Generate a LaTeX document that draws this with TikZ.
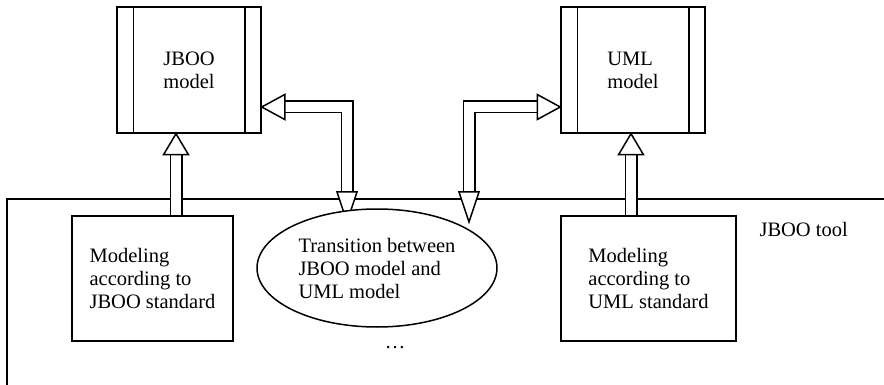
\documentclass[tikz,border=0pt]{standalone}
\usepackage{fontspec}
\setmainfont{Liberation Serif}
\usetikzlibrary{shapes.geometric,calc}

\tikzset{
  every node/.style={font=\fontsize{20.5}{23}\selectfont},
  ln/.style={line width=1.5pt},
  modelbox/.style={ln, draw, fill=white, minimum width=144pt, minimum height=126pt,
                   align=left, inner sep=0pt},
  workbox/.style={ln, draw, fill=white, minimum height=125pt, align=left, inner sep=0pt},
  transbox/.style={ln, draw, fill=white, ellipse, minimum width=240pt, minimum height=118pt,
                   align=left, inner sep=0pt},
  shaft/.style={line width=1.5pt, double=white, double distance=10pt, line join=miter},
  headtip/.style={ln, fill=white, line join=miter},
}

% hollow arrow heads, given by their tip
\newcommand\headUp[1]{\draw[headtip] (#1) -- ++(12.5,21) -- ++(-25,0) -- cycle;}
\newcommand\headDown[1]{\draw[headtip] (#1) -- ++(10,-30) -- ++(-20,0) -- cycle;}
\newcommand\headLeft[1]{\draw[headtip] (#1) -- ++(23,-12.5) -- ++(0,25) -- cycle;}
\newcommand\headRight[1]{\draw[headtip] (#1) -- ++(-23,-12.5) -- ++(0,25) -- cycle;}

\begin{document}
\begin{tikzpicture}[x=1pt, y=-1pt]
\useasboundingbox (0,0) rectangle (884,385);

% tool frame, open to the right and bottom
\coordinate (fa) at (7,385);
\coordinate (fb) at (7,199);
\coordinate (fc) at (884,199);
\draw[ln] (fa) -- (fb) -- (fc);

% nodes
\node[modelbox] (jm) at (189,70) {JBOO\\model};
\node[modelbox] (um) at (633,70) {UML\\model};
\node[workbox, minimum width=161pt] (mj) at (152.5,278.5) {Modeling\\according to\\JBOO standard};
\node[workbox, minimum width=175pt] (mu) at (648.5,278.5) {Modeling\\according to\\UML standard};
\node[anchor=west] (tool) at (756,229) {JBOO tool};
\node (dots) at (395,348) {…};

% inner bars of the model boxes
\foreach \n in {jm,um} {
  \draw[ln] ([xshift=17pt]\n.north west) -- ([xshift=17pt]\n.south west);
  \draw[ln] ([xshift=-17pt]\n.north east) -- ([xshift=-17pt]\n.south east);
}

% arrow routing points
\coordinate (x1) at (176,0);
\coordinate (x4) at (631,0);
\coordinate (b2) at (347,107);
\coordinate (t2) at (347,222);
\coordinate (b3) at (469,107);
\coordinate (t3) at (469,222);

% Modeling (JBOO) -> JBOO model
\draw[shaft] (x1 |- mj.north) -- ($(x1 |- jm.south)+(0,21)$);
\headUp{x1 |- jm.south}

% Modeling (UML) -> UML model
\draw[shaft] (x4 |- mu.north) -- ($(x4 |- um.south)+(0,21)$);
\headUp{x4 |- um.south}

% JBOO model <-> transition
\draw[shaft] ($(jm.east |- b2)+(23,0)$) -- (b2) -- ($(t2)+(0,-30)$);
\headLeft{jm.east |- b2}
\headDown{t2}

% transition <-> UML model
\draw[shaft] ($(t3)+(0,-30)$) -- (b3) -- ($(um.west |- b3)+(-23,0)$);
\headDown{t3}
\headRight{um.west |- b3}

% transition
\node[transbox] (tr) at (377,268) {Transition between\\JBOO model and\\UML model};
\end{tikzpicture}
\end{document}
